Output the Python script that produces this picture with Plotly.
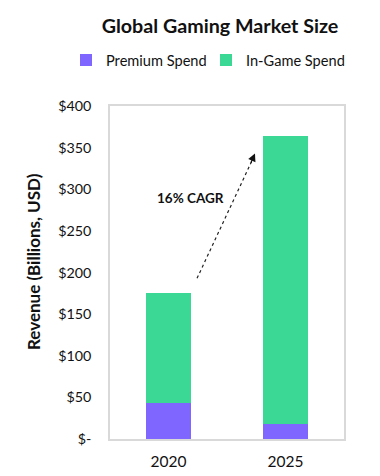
import plotly.graph_objects as go

years = ["2020", "2025"]
premium_spend = [43, 18]
in_game_spend = [132, 346]
y_tick_vals = [0, 50, 100, 150, 200, 250, 300, 350, 400]
y_tick_text = ["$-", "$50", "$100", "$150", "$200", "$250", "$300", "$350", "$400"]
cagr_label = "16% CAGR"

PURPLE = "#7F66FF"
GREEN = "#3BD895"
FONT = "Lato"
INK = "#111111"

fig = go.Figure()
fig.add_trace(go.Bar(x=years, y=premium_spend, name="Premium Spend", legend="legend",
                     marker=dict(color=PURPLE, line=dict(width=0)), width=0.39))
fig.add_trace(go.Bar(x=years, y=in_game_spend, name="In-Game Spend", legend="legend2",
                     marker=dict(color=GREEN, line=dict(width=0)), width=0.39))

# dotted growth arrow
x0, y0 = 0.244, 193
x1, y1 = 0.739, 343
fig.add_shape(type="line", xref="x", yref="y", x0=x0, y0=y0, x1=x1 - 0.02, y1=y1 - 7,
              line=dict(color="#222222", width=1.2, dash="dot"))
fig.add_annotation(x=x1, y=y1, xref="x", yref="y", axref="x", ayref="y",
                   ax=x1 - 0.04, ay=y1 - 13, showarrow=True, arrowhead=2,
                   arrowsize=1.3, arrowwidth=1.2, arrowcolor=INK, text="",
                   standoff=0)
fig.add_annotation(x=0.184, y=289, xref="x", yref="y", text="<b>" + cagr_label + "</b>",
                   showarrow=False, font=dict(family=FONT, size=13.5, color=INK))

# y-axis title
fig.add_annotation(x=0, xref="paper", xshift=-77, y=(439 - 262) / 333, yref="paper",
                   text="<b>Revenue (Billions, USD)</b>", textangle=-90, showarrow=False,
                   xanchor="center", yanchor="middle",
                   font=dict(family=FONT, size=17, color=INK))

leg_common = dict(orientation="h", xref="container", yref="container", xanchor="left",
                  y=1 - 60 / 476, yanchor="middle", itemwidth=30,
                  font=dict(family=FONT, size=14.6, color=INK),
                  bgcolor="rgba(0,0,0,0)")

fig.update_layout(
    width=380, height=476,
    margin=dict(l=110, r=36, t=106, b=37, autoexpand=False),
    barmode="stack",
    plot_bgcolor="white", paper_bgcolor="white",
    font=dict(family=FONT, size=14, color=INK),
    title=dict(text="<b>Global Gaming Market Size</b>", x=220 / 380, xanchor="center",
               xref="container", y=1 - 26 / 476, yref="container", yanchor="middle",
               font=dict(family=FONT, size=19.7, color=INK)),
    showlegend=True,
    legend=dict(x=66 / 380, **leg_common),
    legend2=dict(x=206 / 380, **leg_common),
    xaxis=dict(showline=True, linecolor="#D9D9D9", linewidth=1.5, mirror=True,
               showgrid=False, ticks="", ticklabelstandoff=8,
               tickfont=dict(family=FONT, size=15.5, color=INK),
               range=[-0.5, 1.5], fixedrange=True, automargin=False),
    yaxis=dict(range=[0, 400], tickvals=y_tick_vals, ticktext=y_tick_text,
               showgrid=False, zeroline=False, showline=True, linecolor="#D9D9D9",
               linewidth=1.5, mirror=True, ticks="", ticklabelstandoff=14,
               tickfont=dict(family=FONT, size=14.3, color=INK),
               automargin=False, fixedrange=True),
)

fig.write_html("out.html", post_script="document.body.style.margin='0';",
               config={"displayModeBar": False})
